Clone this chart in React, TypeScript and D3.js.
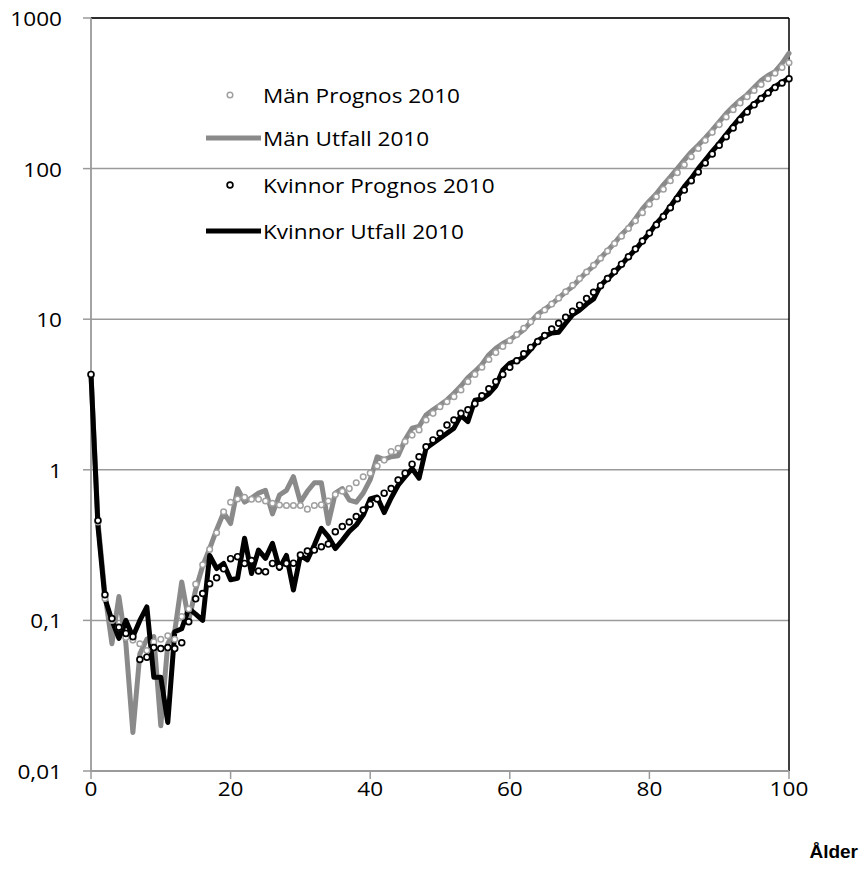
import React from "react";
import * as d3 from "d3";

const ages: number[] = Array.from({ length: 101 }, (_, i) => i);

const menUtfall: number[] = [
  4.3, 0.45, 0.15, 0.07, 0.144, 0.07, 0.018, 0.06, 0.075, 0.078,
  0.02, 0.07, 0.085, 0.18, 0.1, 0.16, 0.23, 0.3, 0.4, 0.52,
  0.44, 0.75, 0.61, 0.65, 0.7, 0.73, 0.51, 0.68, 0.73, 0.9,
  0.61, 0.72, 0.82, 0.82, 0.44, 0.7, 0.75, 0.63, 0.61, 0.7,
  0.86, 1.22, 1.17, 1.22, 1.24, 1.58, 1.89, 1.94, 2.31, 2.5,
  2.69, 2.91, 3.22, 3.6, 4.1, 4.5, 5.0, 5.8, 6.4, 6.9,
  7.3, 7.85, 8.5, 9.6, 10.8, 11.6, 12.6, 13.8, 15.2, 16.5,
  18.5, 20.6, 22.5, 25.5, 28.5, 32, 36.5, 40.5, 46.5, 54,
  61, 68, 78, 88, 100, 114, 129, 143, 160, 180,
  204, 232, 258, 285, 310, 345, 385, 415, 440, 500,
  583,
];

const menPrognos: number[] = [
  4.3, 0.45, 0.14, 0.1, 0.09, 0.077, 0.074, 0.07, 0.063, 0.072,
  0.075, 0.079, 0.075, 0.106, 0.119, 0.174, 0.234, 0.296, 0.382, 0.527,
  0.609, 0.64, 0.657, 0.637, 0.637, 0.621, 0.6, 0.584, 0.58, 0.58,
  0.58, 0.548, 0.58, 0.585, 0.62, 0.686, 0.72, 0.75, 0.82, 0.9,
  0.95, 1.06, 1.16, 1.32, 1.39, 1.54, 1.7, 1.84, 2.14, 2.37,
  2.62, 2.83, 3.06, 3.39, 3.85, 4.3, 4.8, 5.4, 6.0, 6.6,
  7.2, 7.9, 8.7, 9.6, 10.5, 11.5, 12.6, 13.8, 15.2, 16.8,
  18.6, 20.6, 22.8, 25.4, 28.4, 31.8, 35.6, 40, 45, 51,
  58, 65, 73, 83, 94, 106, 120, 136, 154, 174,
  196, 220, 246, 273, 300, 330, 362, 395, 430, 470,
  505,
];

const kvinnorUtfall: number[] = [
  4.3, 0.42, 0.14, 0.1, 0.076, 0.1, 0.078, 0.1, 0.123, 0.042,
  0.042, 0.021, 0.084, 0.088, 0.12, 0.11, 0.1, 0.27, 0.221, 0.239,
  0.186, 0.19, 0.351, 0.205, 0.293, 0.258, 0.325, 0.221, 0.27, 0.159,
  0.27, 0.252, 0.317, 0.409, 0.36, 0.3, 0.34, 0.39, 0.43, 0.5,
  0.64, 0.66, 0.52, 0.65, 0.79, 0.9, 1.02, 0.88, 1.39, 1.5,
  1.62, 1.75, 1.89, 2.3, 2.09, 2.9, 2.95, 3.2, 3.6, 4.6,
  5.1, 5.3, 5.6, 6.3, 7.2, 7.7, 8.1, 8.2, 9.4, 10.7,
  11.5, 12.6, 13.6, 16.8, 18.5, 20.5, 23, 26, 29, 33,
  37.2, 43.3, 48.5, 56, 65, 75.8, 86, 100, 114, 130,
  147, 168, 192, 218, 245, 268, 293, 320, 350, 375,
  398,
];

const kvinnorPrognos: number[] = [
  4.3, 0.46, 0.148, 0.103, 0.09, 0.082, 0.078, 0.055, 0.057, 0.066,
  0.065, 0.066, 0.065, 0.071, 0.098, 0.139, 0.151, 0.175, 0.192, 0.22,
  0.257, 0.265, 0.239, 0.25, 0.213, 0.21, 0.239, 0.227, 0.239, 0.24,
  0.272, 0.289, 0.293, 0.308, 0.321, 0.388, 0.42, 0.45, 0.49, 0.54,
  0.59, 0.64, 0.7, 0.75, 0.855, 0.95, 1.09, 1.22, 1.42, 1.58,
  1.75, 1.98, 2.14, 2.37, 2.5, 2.75, 3.1, 3.45, 3.85, 4.3,
  4.8, 5.3, 5.9, 6.5, 7.1, 7.8, 8.6, 9.4, 10.3, 11.3,
  12.4, 13.7, 15.1, 16.7, 18.6, 20.7, 23.2, 26, 29.2, 33,
  37.3, 42.3, 48, 55, 63, 72, 83, 95, 109, 125,
  143, 163, 186, 211, 238, 265, 292, 318, 345, 370,
  395,
];

const yTicks: number[] = [0.01, 0.1, 1, 10, 100, 1000];
const yTickLabels: string[] = ["0,01", "0,1", "1", "10", "100", "1000"];
const xTicks: number[] = [0, 20, 40, 60, 80, 100];
const legendLabels: string[] = [
  "Män Prognos 2010",
  "Män Utfall 2010",
  "Kvinnor Prognos 2010",
  "Kvinnor Utfall 2010",
];
const xTitle = "Ålder";

export default function App() {
  const W = 865;
  const H = 888;
  const left = 91;
  const right = 789;
  const top = 18;
  const bottom = 771;
  const x = d3.scaleLinear().domain([0, 100]).range([left, right]);
  const y = d3.scaleLog().domain([0.01, 1000]).range([bottom, top]);

  const line = d3
    .line<number>()
    .x((_, i) => x(ages[i]))
    .y((d) => y(d));

  const gray = "#8a8a8a";
  const grid = "#9a9a9a";
  const font = "'Open Sans', 'Noto Sans', sans-serif";
  const sx = 1.13;

  const legendRows = [95, 138, 185, 231];

  return (
    <div style={{ position: "absolute", left: 0, top: 0 }}>
      <svg width={W} height={H} style={{ display: "block" }}>
        <rect x={0} y={0} width={W} height={H} fill="#fff" />
        {yTicks.map((t) => (
          <line
            key={"g" + t}
            x1={left}
            x2={right}
            y1={y(t)}
            y2={y(t)}
            stroke={grid}
            strokeWidth={1.5}
          />
        ))}
        <line x1={left} x2={right} y1={top} y2={top} stroke="#000" strokeWidth={1.5} />
        <line x1={right} x2={right} y1={top} y2={bottom} stroke="#000" strokeWidth={1.5} />
        <line x1={left} x2={left} y1={top} y2={bottom} stroke={grid} strokeWidth={1.8} />
        <line x1={left} x2={right} y1={bottom} y2={bottom} stroke={grid} strokeWidth={1.8} />
        {yTicks.map((t, i) => (
          <g key={"yt" + t}>
            <line x1={left - 8} x2={left} y1={y(t)} y2={y(t)} stroke={grid} strokeWidth={1.5} />
            <g transform={`translate(62,${y(t)}) scale(${sx},1)`}>
              <text
                x={0}
                y={0}
                textAnchor="end"
                dominantBaseline="central"
                fontFamily={font}
                fontSize={20}
                fill="#000"
              >
                {yTickLabels[i]}
              </text>
            </g>
          </g>
        ))}
        {xTicks.map((t) => (
          <g key={"xt" + t}>
            <line x1={x(t)} x2={x(t)} y1={bottom} y2={bottom + 8} stroke={grid} strokeWidth={1.5} />
            <g transform={`translate(${x(t)},788) scale(${sx},1)`}>
              <text
                x={0}
                y={0}
                textAnchor="middle"
                dominantBaseline="central"
                fontFamily={font}
                fontSize={20}
                fill="#000"
              >
                {t}
              </text>
            </g>
          </g>
        ))}
        <text
          x={858}
          y={858}
          textAnchor="end"
          fontFamily="'Liberation Sans Narrow', 'Liberation Sans', Arial, sans-serif"
          fontWeight="bold"
          fontSize={19}
          fill="#000"
        >
          {xTitle}
        </text>

        <path
          d={line(menUtfall) || ""}
          fill="none"
          stroke={gray}
          strokeWidth={5}
          strokeLinejoin="round"
          strokeLinecap="round"
        />
        <path
          d={line(kvinnorUtfall) || ""}
          fill="none"
          stroke="#000"
          strokeWidth={5}
          strokeLinejoin="round"
          strokeLinecap="round"
        />
        {menPrognos.map((v, i) => (
          <circle
            key={"mp" + i}
            cx={x(ages[i])}
            cy={y(v)}
            r={2.8}
            fill="#fff"
            stroke="#a0a0a0"
            strokeWidth={1.5}
          />
        ))}
        {kvinnorPrognos.map((v, i) => (
          <circle
            key={"kp" + i}
            cx={x(ages[i])}
            cy={y(v)}
            r={2.9}
            fill="#fff"
            stroke="#000"
            strokeWidth={1.7}
          />
        ))}

        <circle cx={230} cy={legendRows[0]} r={2.8} fill="#fff" stroke="#a0a0a0" strokeWidth={1.5} />
        <line x1={206} x2={261} y1={legendRows[1]} y2={legendRows[1]} stroke={gray} strokeWidth={5} />
        <circle cx={230} cy={legendRows[2]} r={2.9} fill="#fff" stroke="#000" strokeWidth={1.7} />
        <line x1={206} x2={261} y1={legendRows[3]} y2={legendRows[3]} stroke="#000" strokeWidth={5} />
        {legendLabels.map((l, i) => (
          <g key={l} transform={`translate(263,${legendRows[i]}) scale(${sx},1)`}>
            <text
              x={0}
              y={0}
              dominantBaseline="central"
              fontFamily={font}
              fontSize={20}
              fill="#000"
            >
              {l}
            </text>
          </g>
        ))}
      </svg>
    </div>
  );
}
